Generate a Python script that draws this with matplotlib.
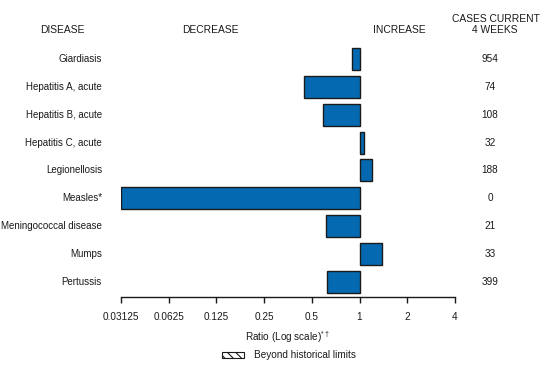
import matplotlib
matplotlib.use("Agg")
import matplotlib.pyplot as plt
from matplotlib.patches import Rectangle
import numpy as np

plt.rcParams['font.family'] = ['Liberation Sans', 'DejaVu Sans']
plt.rcParams['mathtext.fontset'] = 'custom'
plt.rcParams['mathtext.rm'] = 'Liberation Sans'
plt.rcParams['mathtext.it'] = 'Liberation Sans'
plt.rcParams['hatch.linewidth'] = 0.8

diseases = ["Giardiasis", "Hepatitis A, acute", "Hepatitis B, acute", "Hepatitis C, acute",
            "Legionellosis", "Measles*", "Meningococcal disease", "Mumps", "Pertussis"]
ratios = [0.894, 0.446, 0.587, 1.064, 1.195, 0.03125, 0.613, 1.39, 0.623]
cases = ["954", "74", "108", "32", "188", "0", "21", "33", "399"]
tick_vals = [0.03125, 0.0625, 0.125, 0.25, 0.5, 1, 2, 4]
tick_labels = ["0.03125", "0.0625", "0.125", "0.25", "0.5", "1", "2", "4"]

W, H = 545, 375
fig = plt.figure(figsize=(W / 100, H / 100), dpi=100)
ax = fig.add_axes([121 / W, 1 - 297 / H, (455 - 121) / W, (297 - 45) / H])

bar_color = "#0569b1"
ink = "#1a1a1a"
y = np.arange(len(diseases))
left = [min(r, 1) for r in ratios]
widths = [abs(r - 1) for r in ratios]
ax.barh(y, widths, left=left, height=0.79, color=bar_color, edgecolor=ink, linewidth=1.0)

ax.set_xscale("log", base=2)
ax.set_xlim(0.03125, 4)
ax.set_ylim(8 + 15 / 27.9, -0.5)
ax.set_xticks(tick_vals)
ax.set_xticklabels(tick_labels)
ax.xaxis.set_minor_locator(matplotlib.ticker.NullLocator())
ax.set_yticks([])
for s in ["top", "right", "left"]:
    ax.spines[s].set_visible(False)
ax.spines["bottom"].set_linewidth(1.0)
ax.spines["bottom"].set_color(ink)
ax.tick_params(axis="x", direction="out", length=4, width=1.0, labelsize=7.2, pad=7, colors=ink)

ax.set_xlabel(r"Ratio (Log scale)$^{*\dagger}$", fontsize=7.2, labelpad=5, color=ink)

for i, (d, c) in enumerate(zip(diseases, cases)):
    ax.annotate(d, xy=(102 / W, i), xycoords=("figure fraction", "data"),
                ha="right", va="center", fontsize=7.0, color=ink)
    ax.annotate(c, xy=(490 / W, i), xycoords=("figure fraction", "data"),
                ha="center", va="center", fontsize=7.2, color=ink)

hdr = dict(fontsize=7.4, color=ink, ha="center", va="center")
fig.text(62 / W, 1 - 30 / H, "DISEASE", **hdr)
fig.text(210 / W, 1 - 30 / H, "DECREASE", **hdr)
fig.text(399 / W, 1 - 30 / H, "INCREASE", **hdr)
fig.text(496 / W, 1 - 19 / H, "CASES CURRENT", **hdr)
fig.text(495 / W, 1 - 30 / H, "4 WEEKS", **hdr)

fig.patches.append(Rectangle((222 / W, 1 - 358 / H), 22 / W, 6 / H, transform=fig.transFigure,
                             facecolor="white", edgecolor=ink, hatch="\\\\\\\\", linewidth=0.8))
fig.text(254 / W, 1 - 355 / H, "Beyond historical limits", fontsize=7.2, color=ink,
         ha="left", va="center")

fig.savefig("out.png", dpi=100)
